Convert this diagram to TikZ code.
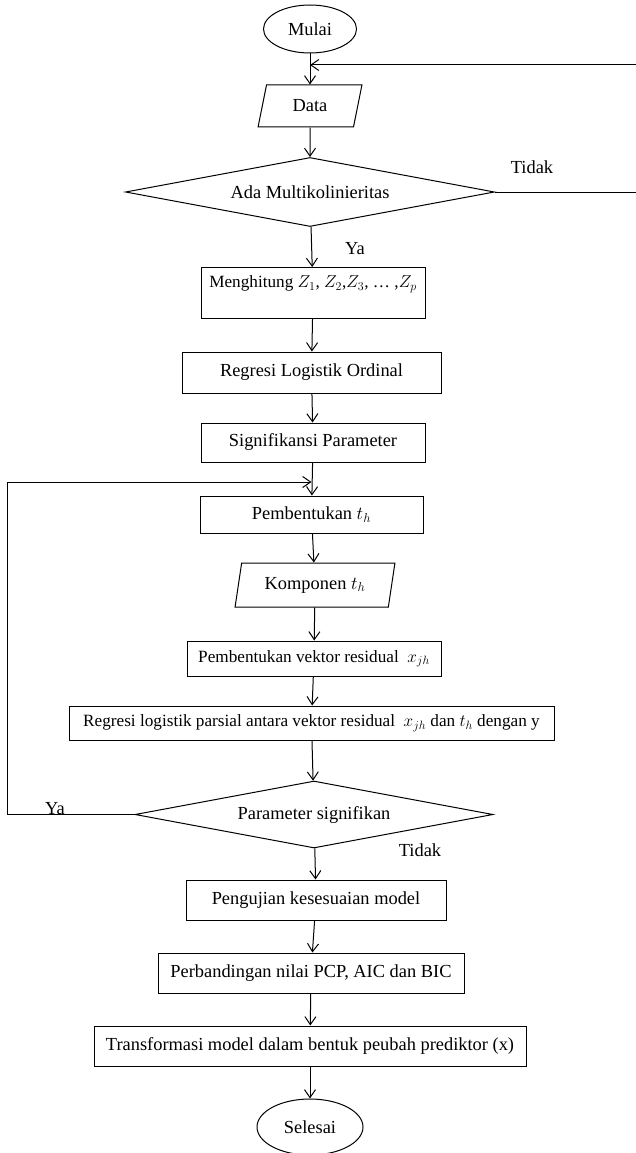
\documentclass[tikz,border=0pt]{standalone}
\usepackage{fix-cm}
\usepackage{fontspec}
\setmainfont{Liberation Serif}
\usepackage{tikz}
\usetikzlibrary{shapes.geometric,arrows.meta}
\tikzset{terminal/.style={ellipse,draw,inner sep=0pt},proses/.style={rectangle,draw,align=center},
io/.style={trapezium,trapezium left angle=78,trapezium right angle=102,trapezium stretches=true,draw},
keputusan/.style={diamond,aspect=5.3,draw,inner sep=0pt},ket/.style={inner sep=0pt},
kecil/.style={font=\fontsize{17.2}{20}\selectfont}}

\begin{document}
\begin{tikzpicture}[x=1pt,y=-1pt,line width=1pt,>={Straight Barb[length=8pt,width=11pt]},
font=\fontsize{18.4}{22}\selectfont]
\useasboundingbox (0,0) rectangle (636,1153);

\node[terminal,minimum width=93pt,minimum height=48pt] (mulai) at (310,29) {Mulai};
\node[io,minimum width=104pt,minimum height=42pt] (data) at (310,106) {Data};
\node[keputusan,minimum width=369pt,minimum height=69pt] (ada) at (310,192) {Ada Multikolinieritas};
\node[proses,kecil,anchor=north,minimum width=224pt,text height=16pt,text depth=27pt,inner ysep=4pt] (hitung) at (313,267) {Menghitung $Z_1$, $Z_2$,$Z_3$, … ,$Z_p$};
\node[proses,minimum width=259pt,minimum height=41pt] (rlo) at (311.5,372.5) {Regresi Logistik Ordinal};
\node[proses,minimum width=224pt,minimum height=39pt] (sig) at (313,442.5) {Signifikansi Parameter};
\node[proses,minimum width=223pt,minimum height=37pt] (pt) at (311.5,514.5) {Pembentukan $t_h$};
\node[io,minimum width=160pt,minimum height=44pt] (komp) at (315,585) {Komponen $t_h$};
\node[proses,kecil,minimum width=254pt,minimum height=35pt] (pvr) at (314,658.5) {Pembentukan vektor residual \ $x_{jh}$};
\node[proses,kecil,minimum width=485pt,minimum height=34pt] (rlp) at (311.5,723) {Regresi logistik parsial antara vektor residual \ $x_{jh}$ dan $t_h$ dengan y};
\node[keputusan,minimum width=358pt,minimum height=67pt] (ps) at (314,814.5) {Parameter signifikan};
\node[proses,minimum width=260pt,minimum height=40pt] (peng) at (316,900) {Pengujian kesesuaian model};
\node[proses,minimum width=306pt,minimum height=40pt] (perb) at (311,973) {Perbandingan nilai PCP, AIC dan BIC};
\node[proses,minimum width=432pt,minimum height=40pt] (trans) at (310,1046) {Transformasi model dalam bentuk peubah prediktor (x)};
\node[terminal,minimum width=106pt,minimum height=56pt] (selesai) at (310,1127) {Selesai};

\node[ket] (tidak1) at (532,167) {Tidak};
\node[ket] (ya1) at (355,249) {Ya};
\node[ket] (ya2) at (55,809) {Ya};
\node[ket] (tidak2) at (420,850) {Tidak};

\draw[->] (mulai) -- (data);
\draw[->] (data) -- (ada);
\draw[->] (ada) -- (hitung);
\draw[->] (hitung) -- (rlo);
\draw[->] (rlo) -- (sig);
\draw[->] (sig) -- (pt);
\draw[->] (pt) -- (komp);
\draw[->] (komp) -- (pvr);
\draw[->] (pvr) -- (rlp);
\draw[->] (rlp) -- (ps);
\draw[->] (ps) -- (peng);
\draw[->] (peng) -- (perb);
\draw[->] (perb) -- (trans);
\draw[->] (trans) -- (selesai);

\coordinate (k1) at (636,65);
\draw[->] (ada.east) -| (k1) -- (k1 -| mulai.south);
\coordinate (k2) at (7,482);
\draw[->] (ps.west) -| (k2) -- (k2 -| pt.north);
\end{tikzpicture}
\end{document}
